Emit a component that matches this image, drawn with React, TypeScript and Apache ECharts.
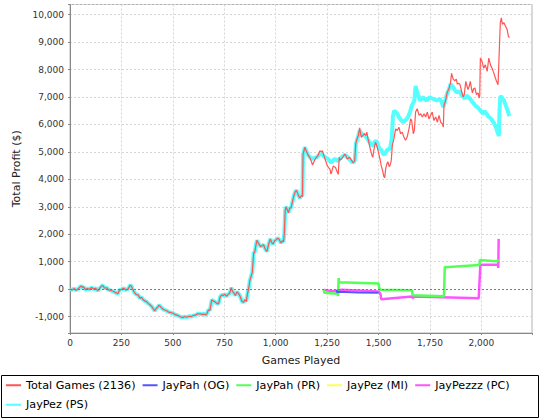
import React, { useEffect, useRef } from "react";
import * as echarts from "echarts";

const seriesNames = [
  "Total Games (2136)",
  "JayPah (OG)",
  "JayPah (PR)",
  "JayPez (MI)",
  "JayPezzz (PC)",
  "JayPez (PS)",
];

const seriesColors = ["#FF5555", "#5555FF", "#55FF55", "#FFFF55", "#FF55FF", "#55FFFF"];

// [games played, total profit]
const totalGames: [number, number][] = [
  [0, 0], [10, -30], [20, 20], [30, -40], [40, 10], [54, 120], [60, 60], [66, 80], [75, -20], [85, 20],
  [95, -10], [105, 60], [115, 0], [125, 30], [135, -60], [145, 40], [155, 120], [160, 130], [168, 30], [178, 50],
  [188, -30], [198, -50], [210, -80], [220, -120], [233, -170], [240, -40], [250, -10], [262, 30], [272, -30], [282, 0],
  [293, 145], [298, 110], [304, 10], [312, -110], [322, -200], [331, -210], [340, -330], [348, -300], [356, -390], [365, -440],
  [371, -450], [380, -520], [390, -580], [398, -640], [405, -720], [412, -790], [420, -700], [428, -640], [433, -585], [440, -640],
  [450, -720], [460, -760], [470, -790], [480, -840], [490, -860], [502, -880], [510, -930], [520, -950], [534, -1000], [548, -1040],
  [558, -1000], [567, -1024], [580, -990], [590, -1000], [600, -960], [610, -950], [620, -900], [632, -900], [642, -920], [652, -910],
  [660, -940], [666, -890], [673, -756], [680, -780], [689, -390], [696, -430], [706, -470], [714, -520], [722, -537], [730, -280],
  [738, -207], [745, -240], [752, -180], [760, -260], [768, -200], [776, -150], [784, 50], [790, -80], [797, -150], [804, -230],
  [812, -100], [820, -170], [828, -280], [836, -450], [844, -480], [850, -390], [857, -450], [862, -200], [868, 0], [874, 300],
  [880, 460], [886, 600], [893, 1317], [898, 1350], [904, 1600], [909, 1780], [914, 1700], [920, 1620], [927, 1550], [934, 1580],
  [941, 1620], [947, 1500], [952, 1420], [958, 1378], [966, 1650], [974, 1830], [980, 1700], [987, 1640], [994, 1750], [1002, 1800],
  [1008, 1850], [1015, 1830], [1020, 1760], [1026, 1680], [1032, 1760], [1038, 1720], [1042, 2040], [1046, 2850], [1050, 3000], [1056, 2900],
  [1062, 2780], [1068, 2950], [1075, 2970], [1082, 3200], [1088, 3390], [1095, 3550], [1101, 3600], [1107, 3480], [1112, 3380], [1118, 3320],
  [1124, 3400], [1130, 3380], [1133, 4920], [1138, 5050], [1141, 5170], [1146, 5080], [1152, 4980], [1158, 4880], [1165, 4800], [1172, 4680],
  [1179, 4520], [1185, 4620], [1192, 4740], [1198, 4800], [1205, 4860], [1210, 4950], [1215, 5040], [1222, 5000], [1227, 5040], [1232, 4920],
  [1237, 4800], [1244, 4650], [1251, 4490], [1258, 4420], [1264, 4370], [1268, 4200], [1272, 4250], [1276, 4380], [1280, 4490], [1286, 4450],
  [1291, 4430], [1297, 4300], [1304, 4180], [1309, 4800], [1314, 4700], [1320, 4740], [1328, 4830], [1336, 4920], [1342, 4850], [1347, 4740],
  [1354, 4780], [1360, 4800], [1368, 4700], [1376, 4610], [1384, 4670], [1389, 5290], [1395, 5470], [1402, 5600], [1408, 5880], [1412, 5700],
  [1416, 5530], [1424, 5600], [1432, 5660], [1438, 5600], [1443, 5720], [1448, 5500], [1453, 5350], [1458, 5150], [1464, 4980], [1468, 4870],
  [1472, 4800], [1478, 5100], [1485, 5350], [1490, 5250], [1496, 5100], [1502, 4900], [1507, 4740], [1513, 4500], [1520, 4310], [1526, 4100],
  [1530, 4060], [1535, 4400], [1540, 4550], [1545, 4640], [1552, 4460], [1558, 4560], [1562, 4700], [1567, 5240], [1575, 5480], [1583, 5840],
  [1591, 5780], [1599, 5900], [1607, 5660], [1615, 5720], [1623, 5540], [1631, 5420], [1639, 5540], [1648, 5840], [1656, 6200], [1661, 6140],
  [1669, 5660], [1674, 5780], [1680, 6450], [1688, 6570], [1697, 6330], [1705, 6390], [1713, 6270], [1721, 6390], [1729, 6270], [1737, 6450],
  [1745, 6200], [1753, 6330], [1761, 6450], [1769, 6140], [1778, 6270], [1786, 6080], [1794, 6330], [1802, 6080], [1810, 6020], [1815, 5900],
  [1818, 6690], [1826, 6870], [1834, 7170], [1842, 7290], [1850, 7530], [1855, 7860], [1863, 7650], [1871, 7590], [1878, 7650], [1883, 7470],
  [1890, 7500], [1896, 7450], [1904, 7200], [1911, 7000], [1917, 7100], [1924, 7570], [1930, 7400], [1935, 7270], [1941, 7400], [1946, 7570],
  [1952, 7300], [1956, 7150], [1962, 7300], [1968, 7330], [1976, 7090], [1984, 7150], [1989, 6960], [1992, 7050], [1995, 8420], [2003, 8300],
  [2011, 8050], [2019, 8170], [2028, 7930], [2036, 8420], [2044, 8170], [2052, 8050], [2060, 7880], [2068, 7690], [2074, 7560], [2081, 7450],
  [2086, 8500], [2092, 9710], [2097, 9880], [2102, 9650], [2109, 9710], [2117, 9590], [2125, 9460], [2131, 9220], [2136, 9160],
];

// JayPez (PS) matches the total until the other accounts start
const psSharedUntil = 1160;
const psTail: [number, number][] = [
  [1165, 4820], [1176, 4740], [1188, 4780], [1200, 4800], [1212, 4900], [1224, 4920], [1232, 4860], [1240, 4800], [1256, 4740], [1264, 4650],
  [1272, 4610], [1280, 4700], [1288, 4740], [1296, 4700], [1304, 4670], [1312, 4760], [1320, 4800], [1332, 4880], [1344, 4860], [1356, 4750],
  [1368, 4640], [1378, 4620], [1384, 4670], [1390, 5300], [1398, 5500], [1408, 5780], [1418, 5650], [1432, 5600], [1444, 5500], [1456, 5350],
  [1466, 5250], [1472, 5230], [1480, 5350], [1488, 5410], [1498, 5250], [1505, 5080], [1512, 5100], [1520, 4950], [1528, 4900], [1536, 5000],
  [1544, 5080], [1556, 5120], [1564, 5480], [1570, 6300], [1576, 6500], [1584, 6450], [1591, 6390], [1600, 6250], [1610, 6150], [1620, 6080],
  [1630, 6150], [1637, 6200], [1645, 6300], [1653, 6450], [1660, 6650], [1666, 6750], [1674, 6870], [1680, 7400], [1688, 7170], [1694, 7050],
  [1701, 6870], [1710, 6950], [1718, 6990], [1726, 6900], [1734, 6870], [1742, 6950], [1750, 6990], [1758, 6950], [1766, 6930], [1774, 6900],
  [1782, 6870], [1790, 6900], [1799, 6930], [1807, 6800], [1815, 6630], [1820, 6750], [1826, 6930], [1832, 7100], [1839, 7230], [1845, 7350],
  [1850, 7470], [1856, 7420], [1863, 7350], [1871, 7250], [1879, 7170], [1888, 7200], [1896, 7180], [1904, 7050], [1912, 7000], [1920, 6950],
  [1928, 7050], [1936, 7000], [1945, 6930], [1953, 6850], [1961, 6780], [1969, 6700], [1977, 6650], [1985, 6600], [1993, 6520], [2001, 6450],
  [2008, 6400], [2016, 6480], [2024, 6400], [2033, 6300], [2041, 6250], [2049, 6180], [2057, 6100], [2065, 6000], [2073, 5850], [2079, 5700],
  [2085, 5580], [2088, 6500], [2092, 7000], [2097, 7020], [2102, 6950], [2109, 6880], [2117, 6720], [2126, 6540], [2132, 6400], [2136, 6300],
];

const jayPahOG: [number, number][] = [
  [1296, -20], [1299, -130], [1303, -100], [1400, -120], [1500, -130],
];

const jayPahPR: [number, number][] = [
  [1233, 0], [1236, -130], [1300, -170], [1303, -250], [1306, 400], [1309, 250], [1500, 200], [1504, 20], [1510, -20],
  [1662, -40], [1666, -220], [1818, -260], [1822, 800], [1990, 880], [1993, 1060], [2078, 1010], [2081, 1080],
];

const jayPezMI: [number, number][] = [];

const jayPezzzPC: [number, number][] = [
  [1233, -25], [1240, -40], [1299, -85], [1316, -25], [1502, -85], [1510, -200], [1513, -370], [1663, -270],
  [1668, -340], [1671, -270], [1987, -330], [1995, 890], [2080, 890], [2082, 770], [2084, 1830],
];

const zeroLine = 0;
const xRange = [0, 2246];
const yRange = [-1600, 10370];
const xStep = 250;
const yStep = 1000;

const FONT = "DejaVu Sans";

export default function App() {
  const ref = useRef<HTMLDivElement>(null);

  useEffect(() => {
    if (!ref.current) return;
    const chart = echarts.init(ref.current, undefined, { renderer: "svg" });
    const jayPezPS: [number, number][] = [
      ...totalGames.filter(([x]) => x <= psSharedUntil),
      ...psTail,
    ];
    const dataByName: Record<string, [number, number][]> = {
      [seriesNames[0]]: totalGames,
      [seriesNames[1]]: jayPahOG,
      [seriesNames[2]]: jayPahPR,
      [seriesNames[3]]: jayPezMI,
      [seriesNames[4]]: jayPezzzPC,
      [seriesNames[5]]: jayPezPS,
    };
    const widths = [1.2, 2, 2.5, 2, 2.5, 4];
    // draw in reverse order so the total is on top
    const order = [5, 4, 3, 2, 1, 0];
    const series: any[] = order.map((i) => ({
      type: "line",
      name: seriesNames[i],
      data: dataByName[seriesNames[i]],
      symbol: "none",
      showSymbol: false,
      lineStyle: { color: seriesColors[i], width: widths[i] },
      itemStyle: { color: seriesColors[i] },
      color: seriesColors[i],
      z: 2,
      ...(i === 5
        ? {
            markLine: {
              silent: true,
              symbol: ["none", "none"],
              label: { show: false },
              lineStyle: { color: "#6a6aff", width: 1, type: [2, 2] },
              data: [{ yAxis: zeroLine }],
            },
          }
        : {}),
    }));

    chart.setOption({
      animation: false,
      backgroundColor: "#ffffff",
      grid: {
        left: 70,
        top: 4.5,
        right: 8,
        bottom: 87,
        show: true,
        borderColor: "#b4b4b4",
        borderWidth: 1,
        backgroundColor: "#ffffff",
        containLabel: false,
        outerBoundsMode: "none",
      },
      legend: {
        data: seriesNames,
        left: 5,
        top: 378.5,
        width: 532,
        padding: 0,
        itemWidth: 15,
        itemHeight: 8,
        itemGap: 6,
        itemStyle: { opacity: 0, borderWidth: 0 },
        textStyle: { fontFamily: FONT, fontSize: 11.2, color: "#000", lineHeight: 13.5 },
      },
      graphic: [
        {
          type: "rect",
          shape: { x: 1.5, y: 375.5, width: 537, height: 42 },
          style: { fill: "none", stroke: "#000", lineWidth: 1 },
          silent: true,
        },
      ],
      xAxis: {
        type: "value",
        min: xRange[0],
        max: xRange[1],
        interval: xStep,
        name: "Games Played",
        nameLocation: "middle",
        nameGap: 22,
        nameTextStyle: { fontFamily: FONT, fontSize: 11, color: "#222" },
        axisLine: { show: true, onZero: false, lineStyle: { color: "#888", width: 1 } },
        axisTick: { show: true, length: 2, lineStyle: { color: "#888" } },
        axisLabel: {
          fontFamily: FONT,
          fontSize: 9,
          color: "#333",
          margin: 5,
          formatter: (v: number) => (v % xStep === 0 ? v.toLocaleString("en-US") : ""),
        },
        splitLine: { show: true, lineStyle: { color: "#d6d6d6", width: 1, type: [2, 2] } },
      },
      yAxis: {
        type: "value",
        min: yRange[0],
        max: yRange[1],
        splitNumber: 12,
        minInterval: yStep,
        maxInterval: yStep,
        name: "Total Profit ($)",
        nameLocation: "middle",
        nameGap: 47,
        nameTextStyle: { fontFamily: FONT, fontSize: 11, color: "#222" },
        axisLine: { show: true, onZero: false, lineStyle: { color: "#888", width: 1 } },
        axisTick: { show: true, length: 2, lineStyle: { color: "#888" } },
        axisLabel: {
          fontFamily: FONT,
          fontSize: 9,
          color: "#333",
          margin: 6,
          formatter: (v: number) => (v % yStep === 0 ? v.toLocaleString("en-US") : ""),
        },
        splitLine: { show: true, lineStyle: { color: "#d6d6d6", width: 1, type: [2, 2] } },
      },
      series,
    });
    return () => chart.dispose();
  }, []);

  return (
    <div
      ref={ref}
      style={{ position: "fixed", left: 0, top: 0, width: 540, height: 420, background: "#fff" }}
    />
  );
}
